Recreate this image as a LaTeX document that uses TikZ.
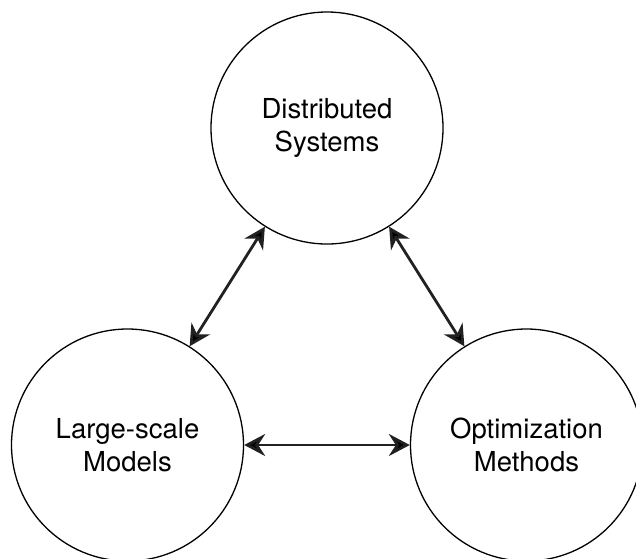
\documentclass[tikz,border=0pt]{standalone}
\usepackage{fontspec}
\setmainfont{TeX Gyre Heros}
\usetikzlibrary{arrows.meta}
\begin{document}
\begin{tikzpicture}[x=1pt, y=-1pt, topic/.style={circle, draw, line width=1.3pt, minimum size=232pt, align=center, font=\fontsize{27.5}{33}\selectfont}, link/.style={draw=black!87, line width=2.8pt, {Stealth[length=21pt, width=22pt, inset=7pt]}-{Stealth[length=21pt, width=22pt, inset=7pt]}}]
    \useasboundingbox (0,0) rectangle (636,558);
    \node [topic] (Distributed) at (327,128) {Distributed\\Systems};
    \node [topic] (LargeScale) at (127.5,445) {Large-scale\\Models};
    \node [topic] (Optimization) at (526.5,445) {Optimization\\Methods};

    \path [link] (Distributed) edge (LargeScale);
    \path [link] (Distributed) edge (Optimization);
    \path [link] (LargeScale) edge (Optimization);
\end{tikzpicture}
\end{document}
